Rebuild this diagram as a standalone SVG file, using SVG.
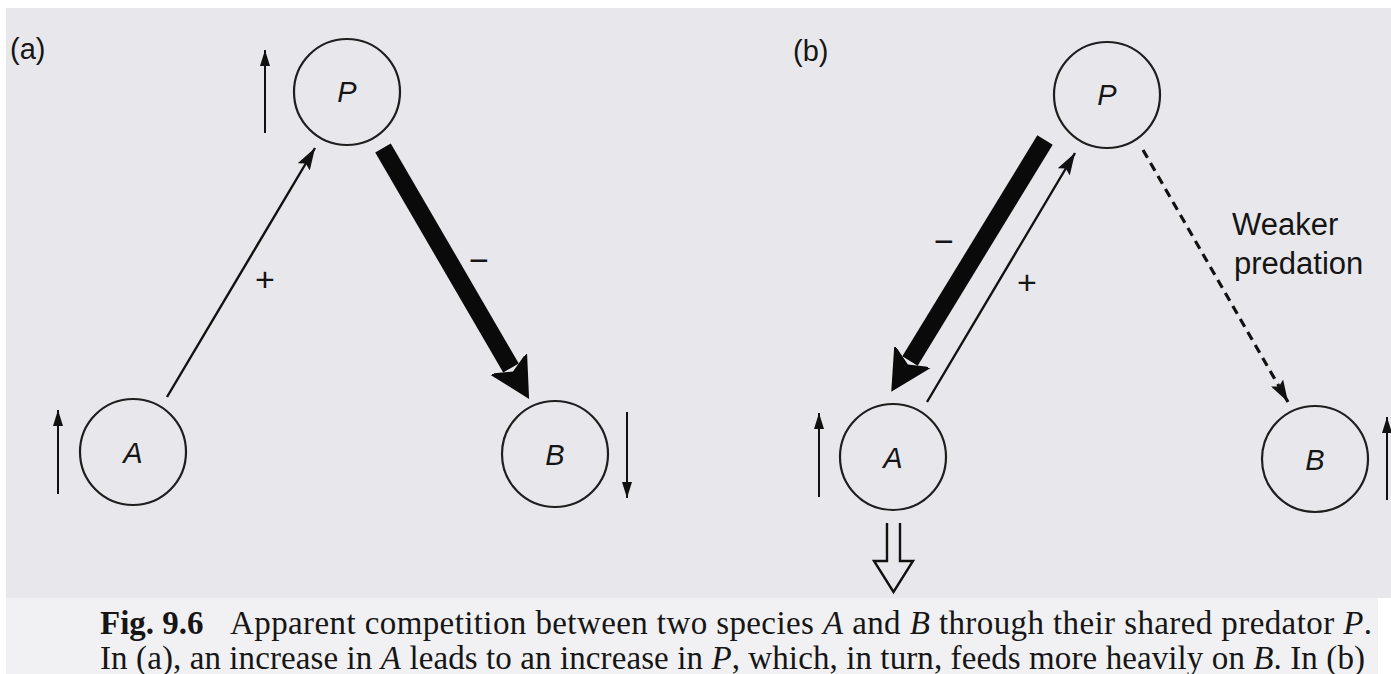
<svg xmlns="http://www.w3.org/2000/svg" width="1391" height="674" viewBox="0 0 1391 674">
<defs>
<style>
.node{fill:none;stroke:#1e1e1e;stroke-width:2.2}
.lbl{font-family:"Liberation Sans",Arial,sans-serif;font-style:italic;font-size:29px;fill:#151515;text-anchor:middle}
.sans{font-family:"Liberation Sans",Arial,sans-serif;fill:#151515}
.sign{font-family:"Liberation Sans",Arial,sans-serif;font-size:34px;fill:#151515;text-anchor:middle}
.thin{stroke:#111;stroke-width:2.4;fill:none}
.small{stroke:#111;stroke-width:2;fill:none}
.thick{stroke:#0a0a0a;stroke-width:18;fill:none}
.dash{stroke:#111;stroke-width:3.2;stroke-dasharray:9 6;fill:none}
.cap{font-family:"Liberation Serif","Times New Roman",serif;font-size:33px;fill:#161616}
</style>
<marker id="headThin" markerUnits="userSpaceOnUse" markerWidth="24" markerHeight="14" refX="22" refY="7" orient="auto">
<path d="M0,0 L22,7 L0,14 L4,7 z" fill="#111"/>
</marker>
<marker id="headSmall" markerUnits="userSpaceOnUse" markerWidth="18" markerHeight="10" refX="16" refY="5" orient="auto">
<path d="M0,0 L16,5 L0,10 z" fill="#111"/>
</marker>
<marker id="headThick" markerUnits="userSpaceOnUse" markerWidth="44" markerHeight="46" refX="4" refY="23" orient="auto">
<path d="M-2,1 L40,23 L-2,45 L8,23 z" fill="#0a0a0a"/>
</marker>
</defs>

<rect x="0" y="0" width="1391" height="674" fill="#ffffff"/>
<rect x="6" y="8" width="1385" height="590" fill="#e8e8ec"/>
<rect x="6" y="598" width="1372" height="76" fill="#f1f1f3"/>

<g id="connectors">
<line class="thin" x1="167" y1="397" x2="315" y2="148" marker-end="url(#headThin)"/>
<line class="thick" x1="383" y1="148" x2="511" y2="368" marker-end="url(#headThick)"/>
<line class="small" x1="265" y1="133" x2="265" y2="50" marker-end="url(#headSmall)"/>
<line class="small" x1="58" y1="494" x2="58" y2="410" marker-end="url(#headSmall)"/>
<line class="small" x1="627" y1="412" x2="627" y2="498" marker-end="url(#headSmall)"/>
<line class="thick" x1="1045" y1="140" x2="910" y2="361" marker-end="url(#headThick)"/>
<line class="thin" x1="927" y1="402" x2="1075" y2="153" marker-end="url(#headThin)"/>
<line class="dash" x1="1143" y1="150" x2="1288" y2="402" marker-end="url(#headThin)"/>
<line class="small" x1="819" y1="497" x2="819" y2="413" marker-end="url(#headSmall)"/>
<line class="small" x1="1387" y1="500" x2="1387" y2="417" marker-end="url(#headSmall)"/>
<path d="M887,523 V561 H874 L893.5,592 L913,561 H900 V523" fill="#e8e8ec" stroke="#111" stroke-width="2.4" stroke-linejoin="miter"/>
</g>

<g id="labels">
<text class="sans" x="10" y="59" font-size="29">(a)</text>
<text class="sans" x="793" y="61" font-size="29">(b)</text>
<text class="sign" x="265" y="291">+</text>
<text class="sign" x="479" y="272">−</text>
<text class="sign" x="944" y="253">−</text>
<text class="sign" x="1027" y="294">+</text>
<text class="sans" x="1232" y="235" font-size="31">Weaker</text>
<text class="sans" x="1234" y="274" font-size="31">predation</text>
</g>

<g id="node-Pa"><circle class="node" cx="347" cy="92" r="53"/><text class="lbl" x="347" y="102">P</text></g>
<g id="node-Aa"><circle class="node" cx="133" cy="452" r="53"/><text class="lbl" x="133" y="463">A</text></g>
<g id="node-Ba"><circle class="node" cx="555" cy="454" r="53"/><text class="lbl" x="555" y="465">B</text></g>
<g id="node-Pb"><circle class="node" cx="1107" cy="95" r="53"/><text class="lbl" x="1107" y="105">P</text></g>
<g id="node-Ab"><circle class="node" cx="893" cy="457" r="53"/><text class="lbl" x="893" y="468">A</text></g>
<g id="node-Bb"><circle class="node" cx="1315" cy="459" r="53"/><text class="lbl" x="1315" y="470">B</text></g>

<g id="caption">
<text class="cap" x="100" y="634" font-weight="bold">Fig. 9.6</text>
<text class="cap" x="230" y="634" textLength="1142" lengthAdjust="spacing">Apparent competition between two species <tspan font-style="italic">A</tspan> and <tspan font-style="italic">B</tspan> through their shared predator <tspan font-style="italic">P</tspan>.</text>
<text class="cap" x="100" y="669" textLength="1265" lengthAdjust="spacing">In (a), an increase in <tspan font-style="italic">A</tspan> leads to an increase in <tspan font-style="italic">P</tspan>, which, in turn, feeds more heavily on <tspan font-style="italic">B</tspan>. In (b)</text>
</g>
</svg>
